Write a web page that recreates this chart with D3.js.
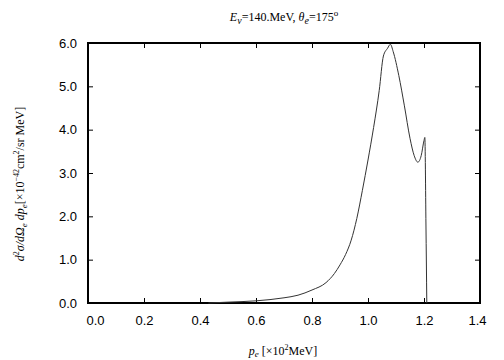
<!DOCTYPE html>
<html>
<head>
<meta charset="utf-8">
<script src="https://cdn.jsdelivr.net/npm/d3@7"></script>
<style>
  body { margin: 0; background: #fff; }
  svg { display: block; }
  .tick text { font-family: "Liberation Sans", Arial, sans-serif; font-size: 13px; }
  .lbl { font-family: "Liberation Serif", "Times New Roman", serif; font-size: 12px; }
</style>
</head>
<body>
<script>
// momentum of electron [x10^2 MeV]
var pe = [0.43, 0.5, 0.6, 0.7, 0.75, 0.8, 0.85, 0.88, 0.9, 0.92, 0.94, 0.96, 0.98, 1.0, 1.02, 1.04,
          1.055, 1.07, 1.08, 1.09, 1.11, 1.13, 1.15, 1.165, 1.178, 1.19, 1.2, 1.203, 1.207, 1.21];
// cross section [x10^-42 cm^2/sr MeV]
var sigma = [0.0, 0.02, 0.05, 0.12, 0.18, 0.3, 0.47, 0.68, 0.88, 1.12, 1.45, 1.95, 2.6, 3.3, 4.05, 4.9,
             5.7, 5.88, 5.97, 5.8, 5.25, 4.55, 3.8, 3.4, 3.25, 3.4, 3.75, 3.82, 1.8, 0.0];
var xTicks = [0.0, 0.2, 0.4, 0.6, 0.8, 1.0, 1.2, 1.4];
var yTicks = [0.0, 1.0, 2.0, 3.0, 4.0, 5.0, 6.0];

var W = 504, H = 360;
var svg = d3.select('body').append('svg').attr('width', W).attr('height', H);

var x = d3.scaleLinear().domain([0, 1.4]).range([88, 480]);
var y = d3.scaleLinear().domain([0, 6]).range([303, 43]);

// bottom axis
var bx = svg.append('g').attr('transform', 'translate(0,' + y(0) + ')')
    .call(d3.axisBottom(x).tickValues(xTicks).tickFormat(d3.format('.1f')).tickSizeInner(-5).tickSizeOuter(0).tickPadding(13));
// top axis, ticks only
svg.append('g').attr('transform', 'translate(0,' + y(6) + ')')
    .call(d3.axisTop(x).tickValues(xTicks).tickFormat('').tickSizeInner(-5).tickSizeOuter(0));
// left axis
svg.append('g').attr('transform', 'translate(' + x(0) + ',0)')
    .call(d3.axisLeft(y).tickValues(yTicks).tickFormat(d3.format('.1f')).tickSizeInner(-5).tickSizeOuter(0).tickPadding(11));
// right axis, ticks only
svg.append('g').attr('transform', 'translate(' + x(1.4) + ',0)')
    .call(d3.axisRight(y).tickValues(yTicks).tickFormat('').tickSizeInner(-5).tickSizeOuter(0));

svg.selectAll('.domain').remove();
svg.selectAll('.tick line').attr('stroke', '#000').attr('stroke-width', 1);
svg.selectAll('.tick text').attr('fill', '#000');

// end labels pulled inside like the original
bx.selectAll('.tick text').attr('dx', function(d) {
  if (d === 0) return 7;
  if (d === 1.4) return -3;
  return 0;
});

// frame
svg.append('rect')
    .attr('x', x(0)).attr('y', y(6))
    .attr('width', x(1.4) - x(0)).attr('height', y(0) - y(6))
    .attr('fill', 'none').attr('stroke', '#000').attr('stroke-width', 2);

// curve
var pts = pe.map(function(p, i) { return [p, sigma[i]]; });
svg.append('path')
    .datum(pts)
    .attr('d', d3.line().x(function(d) { return x(d[0]); }).y(function(d) { return y(d[1]); }).curve(d3.curveMonotoneX))
    .attr('fill', 'none')
    .attr('stroke', '#333')
    .attr('stroke-width', 1);

// title
var t = svg.append('text').attr('class', 'lbl').attr('x', 284).attr('y', 21).attr('text-anchor', 'middle').attr('font-size', 13);
t.append('tspan').attr('font-style', 'italic').text('E');
t.append('tspan').attr('font-style', 'italic').attr('font-size', 10).attr('dy', 3).text('ν');
t.append('tspan').attr('dy', -3).text('=140.MeV,  ');
t.append('tspan').attr('font-style', 'italic').text('θ');
t.append('tspan').attr('font-style', 'italic').attr('font-size', 10).attr('dy', 3).text('e');
t.append('tspan').attr('dy', -3).text('=175');
t.append('tspan').attr('font-size', 9).attr('dy', -5).text('o');

// x label
var xl = svg.append('text').attr('class', 'lbl').attr('x', 283).attr('y', 355).attr('text-anchor', 'middle');
xl.append('tspan').attr('font-style', 'italic').text('p');
xl.append('tspan').attr('font-style', 'italic').attr('font-size', 9).attr('dy', 2).text('e');
xl.append('tspan').attr('dy', -2).text(' [×10');
xl.append('tspan').attr('font-size', 8).attr('dy', -5).text('2');
xl.append('tspan').attr('dy', 5).text('MeV]');

// y label
var yl = svg.append('text').attr('class', 'lbl')
    .attr('transform', 'translate(24,184) rotate(-90)').attr('text-anchor', 'middle');
yl.append('tspan').attr('font-style', 'italic').text('d');
yl.append('tspan').attr('font-size', 8).attr('dy', -5).text('2');
yl.append('tspan').attr('font-style', 'italic').attr('dy', 5).text('σ/dΩ');
yl.append('tspan').attr('font-style', 'italic').attr('font-size', 9).attr('dy', 3).text('e');
yl.append('tspan').attr('font-style', 'italic').attr('dy', -3).text(' dp');
yl.append('tspan').attr('font-style', 'italic').attr('font-size', 9).attr('dy', 3).text('e');
yl.append('tspan').attr('dy', -3).text('[×10');
yl.append('tspan').attr('font-size', 8).attr('dy', -5).text('−42');
yl.append('tspan').attr('dy', 5).text('cm');
yl.append('tspan').attr('font-size', 8).attr('dy', -5).text('2');
yl.append('tspan').attr('dy', 5).text('/sr MeV]');
</script>
</body>
</html>
